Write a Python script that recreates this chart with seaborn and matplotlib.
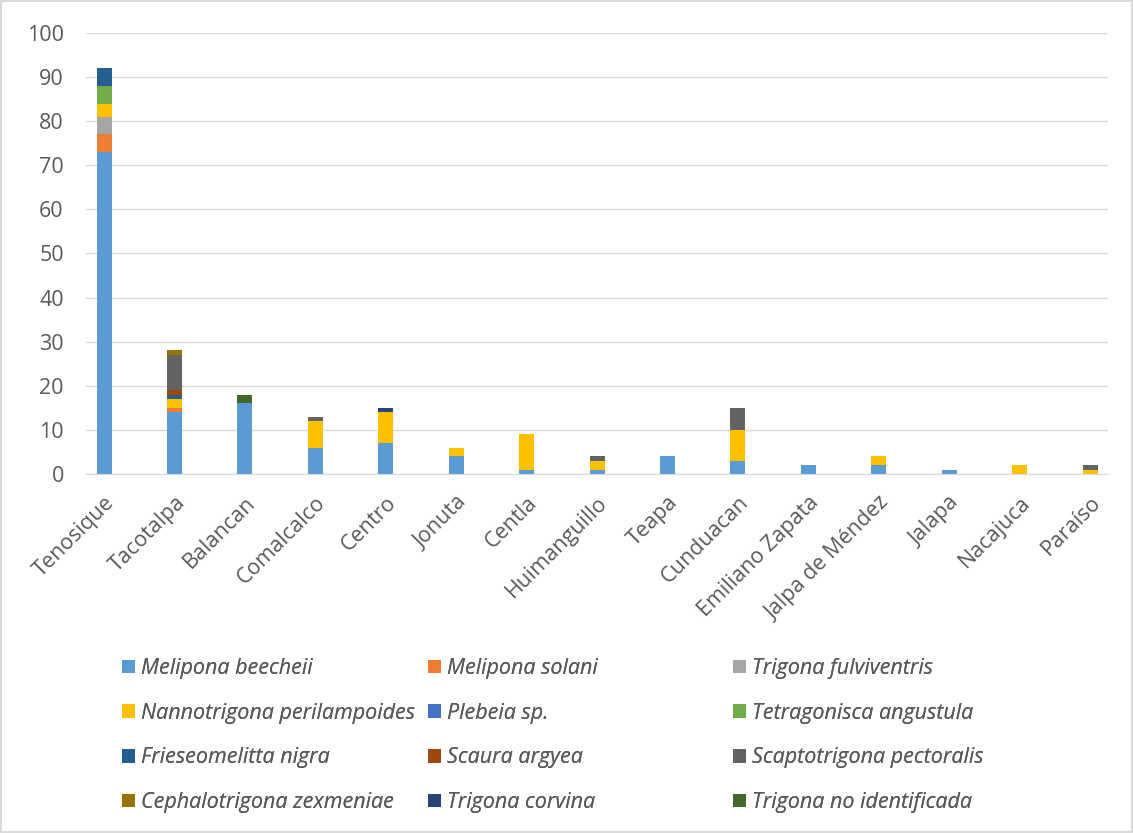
import numpy as np
import pandas as pd
import matplotlib
matplotlib.use("Agg")
import matplotlib.pyplot as plt
from matplotlib.patches import Patch
import seaborn as sns


municipios = [
    "Tenosique", "Tacotalpa", "Balancan", "Comalcalco", "Centro",
    "Jonuta", "Centla", "Huimanguillo", "Teapa", "Cunduacan",
    "Emiliano Zapata", "Jalpa de Méndez", "Jalapa", "Nacajuca", "Paraíso",
]

especies = [
    "Melipona beecheii", "Melipona solani", "Trigona fulviventris",
    "Nannotrigona perilampoides", "Plebeia sp.", "Tetragonisca angustula",
    "Frieseomelitta nigra", "Scaura argyea", "Scaptotrigona pectoralis",
    "Cephalotrigona zexmeniae", "Trigona corvina", "Trigona no identificada",
]

colores = [
    "#5B9BD5", "#ED7D31", "#A5A5A5", "#FFC000", "#4472C4", "#70AD47",
    "#255E91", "#9E480E", "#636363", "#997300", "#264478", "#43682B",
]

# counts per species, one value per municipio (same order as above)
melipona_beecheii = [73, 14, 16, 6, 7, 4, 1, 1, 4, 3, 2, 2, 1, 0, 0]
melipona_solani = [4, 1, 0, 0, 0, 0, 0, 0, 0, 0, 0, 0, 0, 0, 0]
trigona_fulviventris = [4, 0, 0, 0, 0, 0, 0, 0, 0, 0, 0, 0, 0, 0, 0]
nannotrigona = [3, 2, 0, 6, 7, 2, 8, 2, 0, 7, 0, 2, 0, 2, 1]
plebeia = [0, 0, 0, 0, 0, 0, 0, 0, 0, 0, 0, 0, 0, 0, 0]
tetragonisca = [4, 0, 0, 0, 0, 0, 0, 0, 0, 0, 0, 0, 0, 0, 0]
frieseomelitta = [4, 1, 0, 0, 0, 0, 0, 0, 0, 0, 0, 0, 0, 0, 0]
scaura = [0, 1, 0, 0, 0, 0, 0, 0, 0, 0, 0, 0, 0, 0, 0]
scaptotrigona = [0, 8, 0, 1, 0, 0, 0, 1, 0, 5, 0, 0, 0, 0, 1]
cephalotrigona = [0, 1, 0, 0, 0, 0, 0, 0, 0, 0, 0, 0, 0, 0, 0]
trigona_corvina = [0, 0, 0, 0, 1, 0, 0, 0, 0, 0, 0, 0, 0, 0, 0]
trigona_no_id = [0, 0, 2, 0, 0, 0, 0, 0, 0, 0, 0, 0, 0, 0, 0]

series = [
    melipona_beecheii, melipona_solani, trigona_fulviventris, nannotrigona,
    plebeia, tetragonisca, frieseomelitta, scaura, scaptotrigona,
    cephalotrigona, trigona_corvina, trigona_no_id,
]


def main():
    sns.set_style("white")
    plt.rcParams["font.family"] = ["Open Sans", "DejaVu Sans"]

    fig = plt.figure(figsize=(11.33, 8.33), dpi=100,
                     edgecolor="#D9D9D9", linewidth=1.5)
    ax = fig.add_axes([0.0759, 0.431, 0.902, 0.5294])

    # cumulative heights, drawn from the top layer down so each segment shows
    acumulado = np.cumsum(np.array(series), axis=0)
    for i in range(len(especies) - 1, -1, -1):
        df = pd.DataFrame({"municipio": municipios, "total": acumulado[i]})
        sns.barplot(
            data=df, x="municipio", y="total", order=municipios,
            color=colores[i], saturation=1, width=0.213,
            linewidth=0, ax=ax,
        )

    ax.set_ylim(0, 100)
    ax.set_yticks(range(0, 101, 10))
    ax.set_xlim(-0.256, 14.255)
    ax.yaxis.grid(True, color="#D9D9D9", linewidth=1)
    ax.set_axisbelow(True)
    for lado in ["top", "right", "left"]:
        ax.spines[lado].set_visible(False)
    ax.spines["bottom"].set_color("#D9D9D9")

    ax.set_xlabel("")
    ax.set_ylabel("")
    ax.tick_params(axis="both", length=0, labelsize=15.5, colors="#595959")
    ax.tick_params(axis="y", pad=16)
    ax.tick_params(axis="x", pad=13)
    plt.setp(ax.get_xticklabels(), rotation=45, ha="right",
             rotation_mode="anchor")

    # legend: three fixed-width columns, like the original layout
    handles = [Patch(facecolor=c, edgecolor="none") for c in colores]
    columnas_x = [122 / 1133, 428 / 1133, 733 / 1133]
    for col in range(3):
        idx = list(range(col, 12, 3))
        leg = fig.legend(
            [handles[i] for i in idx], [especies[i] for i in idx],
            loc="upper left", bbox_to_anchor=(columnas_x[col], 1 - 658 / 833),
            frameon=False, prop={"size": 15.5, "style": "italic"},
            handlelength=0.6, handleheight=0.6, handletextpad=0.3,
            labelspacing=1.1, labelcolor="#595959",
            borderpad=0, borderaxespad=0,
        )
        fig.add_artist(leg)

    fig.savefig("out.png", dpi=100)
    plt.close(fig)


if __name__ == "__main__":
    main()
